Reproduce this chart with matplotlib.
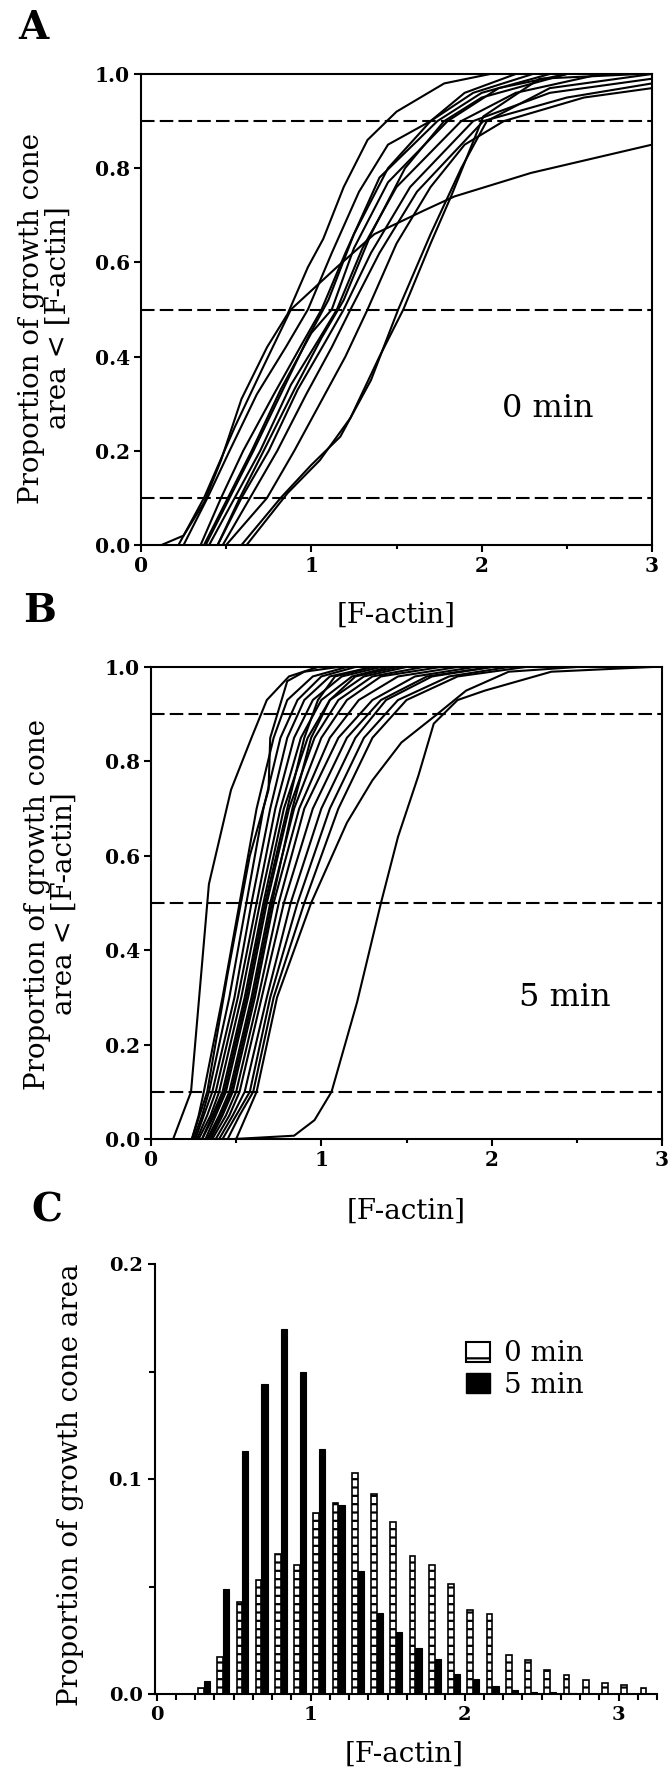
import numpy as np
import matplotlib
matplotlib.use('Agg')
import matplotlib.pyplot as plt
from matplotlib.patches import Patch
from matplotlib.ticker import MultipleLocator

#--------------------------------------------------------------------------------
# Panel A : cumulative curves, 0 min (x = [F-actin], y = proportion of area)
#--------------------------------------------------------------------------------
curves_0min = [
    ([0.12, 0.25, 0.37, 0.47, 0.59, 0.74, 0.86, 0.98, 1.07, 1.19, 1.33, 1.50, 1.78, 2.05],
     [0.00, 0.02, 0.09, 0.18, 0.31, 0.42, 0.49, 0.59, 0.65, 0.76, 0.86, 0.92, 0.98, 1.00]),
    ([0.22, 0.37, 0.55, 0.72, 0.88, 1.15, 1.37, 1.66, 1.84, 2.29, 3.00],
     [0.00, 0.10, 0.25, 0.38, 0.50, 0.59, 0.66, 0.71, 0.74, 0.79, 0.85]),
    ([0.25, 0.39, 0.52, 0.68, 0.85, 0.98, 1.12, 1.28, 1.45, 1.70, 1.95, 2.30],
     [0.00, 0.10, 0.20, 0.32, 0.42, 0.50, 0.62, 0.75, 0.85, 0.90, 0.96, 1.00]),
    ([0.35, 0.47, 0.60, 0.78, 0.95, 1.06, 1.20, 1.40, 1.74, 2.00, 2.40],
     [0.00, 0.10, 0.20, 0.32, 0.43, 0.50, 0.62, 0.78, 0.90, 0.96, 1.00]),
    ([0.37, 0.51, 0.65, 0.82, 1.00, 1.12, 1.25, 1.45, 1.80, 2.10, 2.50],
     [0.00, 0.10, 0.20, 0.33, 0.45, 0.50, 0.63, 0.77, 0.90, 0.97, 1.00]),
    ([0.40, 0.55, 0.70, 0.88, 1.05, 1.15, 1.30, 1.50, 1.88, 2.20, 2.70],
     [0.00, 0.10, 0.20, 0.34, 0.44, 0.50, 0.63, 0.76, 0.90, 0.96, 1.00]),
    ([0.45, 0.59, 0.75, 0.92, 1.08, 1.19, 1.35, 1.58, 1.95, 2.40, 3.00],
     [0.00, 0.10, 0.20, 0.33, 0.43, 0.50, 0.62, 0.76, 0.90, 0.96, 0.99]),
    ([0.48, 0.64, 0.80, 0.97, 1.12, 1.23, 1.40, 1.62, 2.01, 2.50, 3.00],
     [0.00, 0.10, 0.20, 0.32, 0.42, 0.50, 0.62, 0.75, 0.90, 0.95, 0.98]),
    ([0.50, 0.74, 0.90, 1.05, 1.20, 1.33, 1.50, 1.70, 1.90, 2.13, 2.60, 3.00],
     [0.00, 0.10, 0.20, 0.30, 0.40, 0.50, 0.64, 0.76, 0.85, 0.90, 0.95, 0.97]),
    ([0.59, 0.82, 1.00, 1.17, 1.35, 1.51, 1.70, 1.88, 2.03, 2.40, 3.00],
     [0.00, 0.10, 0.17, 0.23, 0.35, 0.50, 0.66, 0.80, 0.90, 0.97, 1.00]),
    ([0.62, 0.86, 1.05, 1.23, 1.40, 1.54, 1.70, 1.82, 2.01, 2.34, 2.93],
     [0.00, 0.11, 0.18, 0.27, 0.40, 0.50, 0.64, 0.74, 0.91, 0.99, 1.00]),
    ([0.38, 0.52, 0.66, 0.82, 0.98, 1.10, 1.25, 1.45, 1.70, 1.90, 2.20],
     [0.00, 0.10, 0.20, 0.32, 0.44, 0.52, 0.66, 0.80, 0.90, 0.96, 1.00]),
    ([0.45, 0.58, 0.72, 0.90, 1.06, 1.19, 1.35, 1.55, 1.78, 2.00, 2.50],
     [0.00, 0.10, 0.20, 0.33, 0.44, 0.52, 0.66, 0.80, 0.90, 0.95, 1.00]),
]

#--------------------------------------------------------------------------------
# Panel B : cumulative curves, 5 min
#--------------------------------------------------------------------------------
curves_5min = [
    ([0.13, 0.235, 0.34, 0.47, 0.59, 0.68, 0.81, 0.98],
     [0.00, 0.10, 0.54, 0.74, 0.85, 0.93, 0.98, 1.00]),
    ([0.24, 0.33, 0.45, 0.58, 0.69, 0.70, 0.80, 0.90, 1.10],
     [0.00, 0.10, 0.35, 0.60, 0.74, 0.85, 0.97, 0.99, 1.00]),
    ([0.24, 0.28, 0.31, 0.42, 0.52, 0.62, 0.72, 0.80, 0.95, 1.15],
     [0.00, 0.05, 0.10, 0.30, 0.50, 0.70, 0.85, 0.93, 0.98, 1.00]),
    ([0.25, 0.30, 0.34, 0.46, 0.56, 0.66, 0.76, 0.86, 1.00, 1.20],
     [0.00, 0.05, 0.10, 0.30, 0.50, 0.70, 0.85, 0.93, 0.98, 1.00]),
    ([0.26, 0.31, 0.36, 0.49, 0.59, 0.70, 0.80, 0.90, 1.05, 1.30],
     [0.00, 0.05, 0.10, 0.30, 0.50, 0.70, 0.85, 0.93, 0.98, 1.00]),
    ([0.27, 0.33, 0.38, 0.51, 0.62, 0.73, 0.84, 0.95, 1.12, 1.35],
     [0.00, 0.05, 0.10, 0.30, 0.50, 0.70, 0.85, 0.93, 0.98, 1.00]),
    ([0.28, 0.35, 0.40, 0.53, 0.64, 0.76, 0.88, 1.00, 1.18, 1.40],
     [0.00, 0.05, 0.10, 0.30, 0.50, 0.70, 0.85, 0.93, 0.98, 1.00]),
    ([0.30, 0.36, 0.42, 0.55, 0.66, 0.78, 0.92, 1.05, 1.25, 1.50],
     [0.00, 0.05, 0.10, 0.30, 0.50, 0.70, 0.85, 0.93, 0.98, 1.00]),
    ([0.32, 0.38, 0.44, 0.57, 0.68, 0.81, 0.96, 1.10, 1.30, 1.60],
     [0.00, 0.05, 0.10, 0.30, 0.50, 0.70, 0.85, 0.93, 0.98, 1.00]),
    ([0.33, 0.40, 0.46, 0.59, 0.70, 0.84, 1.00, 1.15, 1.35, 1.70],
     [0.00, 0.05, 0.10, 0.30, 0.50, 0.70, 0.85, 0.93, 0.98, 1.00]),
    ([0.35, 0.42, 0.48, 0.61, 0.72, 0.87, 1.05, 1.22, 1.45, 1.80],
     [0.00, 0.05, 0.10, 0.30, 0.50, 0.70, 0.85, 0.93, 0.98, 1.00]),
    ([0.36, 0.44, 0.50, 0.63, 0.75, 0.90, 1.10, 1.30, 1.55, 1.90],
     [0.00, 0.05, 0.10, 0.30, 0.50, 0.70, 0.85, 0.93, 0.98, 1.00]),
    ([0.38, 0.46, 0.52, 0.65, 0.78, 0.95, 1.15, 1.35, 1.62, 2.00],
     [0.00, 0.05, 0.10, 0.30, 0.50, 0.70, 0.85, 0.93, 0.98, 1.00]),
    ([0.40, 0.48, 0.55, 0.68, 0.82, 1.00, 1.20, 1.38, 1.65, 2.00],
     [0.00, 0.05, 0.10, 0.30, 0.50, 0.70, 0.85, 0.93, 0.98, 1.00]),
    ([0.42, 0.50, 0.58, 0.70, 0.86, 1.05, 1.25, 1.45, 1.75, 2.10],
     [0.00, 0.05, 0.10, 0.30, 0.50, 0.70, 0.85, 0.93, 0.98, 1.00]),
    ([0.45, 0.52, 0.60, 0.72, 0.90, 1.10, 1.30, 1.50, 1.80, 2.20],
     [0.00, 0.05, 0.10, 0.30, 0.50, 0.70, 0.85, 0.93, 0.98, 1.00]),
    ([0.30, 0.37, 0.43, 0.56, 0.67, 0.80, 0.90, 0.98, 1.08, 1.30],
     [0.00, 0.05, 0.10, 0.30, 0.50, 0.70, 0.85, 0.93, 0.98, 1.00]),
    ([0.34, 0.41, 0.47, 0.60, 0.71, 0.83, 0.94, 1.05, 1.20, 1.45],
     [0.00, 0.05, 0.10, 0.30, 0.50, 0.70, 0.85, 0.93, 0.98, 1.00]),
    ([0.50, 0.62, 0.74, 0.94, 1.15, 1.30, 1.47, 1.68, 1.85, 2.10, 2.50],
     [0.00, 0.10, 0.30, 0.50, 0.67, 0.76, 0.84, 0.90, 0.95, 0.99, 1.00]),
    ([0.49, 0.84, 0.96, 1.06, 1.21, 1.35, 1.45, 1.57, 1.66, 1.80, 1.96, 2.35, 2.94],
     [0.00, 0.007, 0.04, 0.10, 0.29, 0.50, 0.64, 0.77, 0.88, 0.93, 0.95, 0.99, 1.00]),
]

threshold_levels = [0.1, 0.5, 0.9]
curve_yticks = [0.0, 0.2, 0.4, 0.6, 0.8, 1.0]
curve_xticks = [0, 1, 2, 3]

#--------------------------------------------------------------------------------
# Panel C : histogram of [F-actin] (bin lower edges, width 0.125)
#--------------------------------------------------------------------------------
bin_lo = [0.25, 0.375, 0.5, 0.625, 0.75, 0.875, 1.0, 1.125, 1.25, 1.375, 1.5, 1.625,
          1.75, 1.875, 2.0, 2.125, 2.25, 2.375, 2.5, 2.625, 2.75, 2.875, 3.0, 3.125]
prop_0min = [0.003, 0.017, 0.043, 0.053, 0.065, 0.060, 0.084, 0.089, 0.103, 0.093, 0.080, 0.064,
             0.060, 0.051, 0.039, 0.037, 0.018, 0.016, 0.011, 0.009, 0.0065, 0.005, 0.004, 0.003]
prop_5min = [0.006, 0.049, 0.113, 0.144, 0.170, 0.150, 0.114, 0.088, 0.057, 0.0375, 0.029, 0.0215,
             0.0165, 0.0093, 0.007, 0.0035, 0.002, 0.001, 0.001, 0.0005, 0.0, 0.0, 0.0, 0.0]
hist_yticks = [0.0, 0.1, 0.2]
hist_xticks = [0, 1, 2, 3]

#--------------------------------------------------------------------------------
# Style
#--------------------------------------------------------------------------------
plt.rcParams['font.family'] = 'DejaVu Serif'
plt.rcParams['hatch.linewidth'] = 1.6
W, H = 668.0, 1770.0
lw = 1.5

def box(left, right, top, bottom):
    return [left / W, 1 - bottom / H, (right - left) / W, (bottom - top) / H]

fig = plt.figure(figsize=(6.68, 17.7), dpi=100)

#--------------------------------------------------------------------------------
# Panels A and B
#--------------------------------------------------------------------------------
panels = [
    (box(141, 652, 74, 545), curves_0min, '0 min', 2.39, 0.29),
    (box(151, 662, 667, 1139), curves_5min, '5 min', 2.43, 0.30),
]
for rect, curves, tag, tx, ty in panels:
    ax = fig.add_axes(rect)
    for xs, ys in curves:
        ax.plot(xs, ys, color='black', lw=lw, solid_joinstyle='miter')
    for lev in threshold_levels:
        ax.axhline(lev, color='black', lw=lw, dashes=(6.5, 2.5))
    ax.set_xlim(0, 3)
    ax.set_ylim(0, 1)
    ax.set_xticks(curve_xticks, labels=[str(v) for v in curve_xticks])
    ax.set_yticks(curve_yticks, labels=['%.1f' % v for v in curve_yticks])
    ax.xaxis.set_minor_locator(MultipleLocator(0.5))
    ax.tick_params(axis='both', which='major', direction='out', length=5, width=lw,
                   labelsize=14.5, pad=3)
    ax.tick_params(axis='x', which='minor', direction='out', length=3, width=lw)
    for lab in ax.get_xticklabels() + ax.get_yticklabels():
        lab.set_fontweight('bold')
    for sp in ax.spines.values():
        sp.set_linewidth(lw)
    ax.text(tx, ty, tag, fontsize=23, ha='center', va='center')

#--------------------------------------------------------------------------------
# Panel C
#--------------------------------------------------------------------------------
axC = fig.add_axes(box(155.2, 657.2, 1264, 1694))
lo = np.array(bin_lo)
axC.bar(lo + 0.018, prop_0min, width=0.037, align='edge', color='white',
        edgecolor='black', linewidth=1.2, hatch='--')
axC.bar(lo + 0.055, prop_5min, width=0.040, align='edge', color='black',
        edgecolor='black', linewidth=0.8)
axC.set_xlim(-0.01, 3.25)
axC.set_ylim(0, 0.2)
axC.spines['top'].set_visible(False)
axC.spines['right'].set_visible(False)
for sp in axC.spines.values():
    sp.set_linewidth(lw)
axC.set_xticks(hist_xticks, labels=[str(v) for v in hist_xticks])
axC.set_yticks(hist_yticks, labels=['%.1f' % v for v in hist_yticks])
axC.xaxis.set_minor_locator(MultipleLocator(0.125))
axC.yaxis.set_minor_locator(MultipleLocator(0.05))
axC.tick_params(axis='both', which='major', direction='out', length=5, width=lw,
                labelsize=14, pad=4)
axC.tick_params(axis='both', which='minor', direction='out', length=4, width=lw)
for lab in axC.get_xticklabels() + axC.get_yticklabels():
    lab.set_fontweight('bold')

handles = [Patch(facecolor='white', edgecolor='black', hatch='-', linewidth=1.5, label='0 min'),
           Patch(facecolor='black', edgecolor='black', label='5 min')]
fig.legend(handles=handles, loc='upper left', bbox_to_anchor=(447 / W, 1 - 1321 / H),
           frameon=False, fontsize=20, handlelength=0.85, handleheight=0.75,
           handletextpad=0.5, labelspacing=0.15, borderpad=0.2)

#--------------------------------------------------------------------------------
# Labels
#--------------------------------------------------------------------------------
for name, x, y in [('A', 33, 28), ('B', 40, 611), ('C', 47, 1211)]:
    fig.text(x / W, 1 - y / H, name, fontsize=28, fontweight='bold', ha='center', va='center')

ylab2 = 'Proportion of growth cone\narea < [F-actin]'
fig.text(45 / W, 1 - 318 / H, ylab2, fontsize=20, rotation=90, ha='center', va='center',
         linespacing=1.0, multialignment='center')
fig.text(51 / W, 1 - 904 / H, ylab2, fontsize=20, rotation=90, ha='center', va='center',
         linespacing=1.0, multialignment='center')
fig.text(71 / W, 1 - 1485 / H, 'Proportion of growth cone area', fontsize=20, rotation=90,
         ha='center', va='center')

for x, y in [(396, 615), (406, 1211), (404, 1754)]:
    fig.text(x / W, 1 - y / H, '[F-actin]', fontsize=20, ha='center', va='center')

fig.savefig('out.png', dpi=100)
